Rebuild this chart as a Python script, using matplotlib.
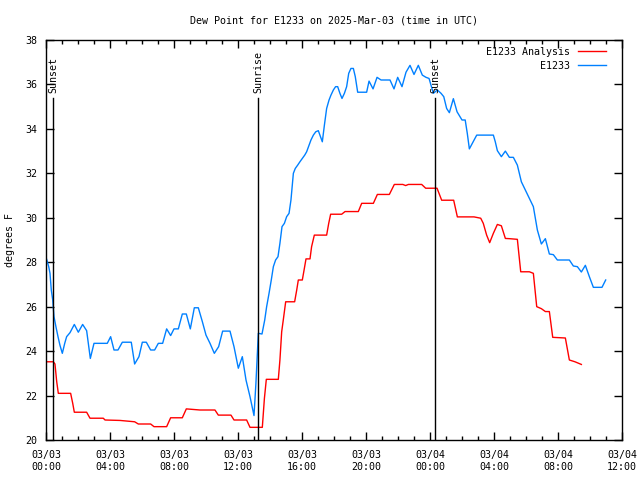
import matplotlib
matplotlib.use("Agg")
import matplotlib.pyplot as plt
from matplotlib.ticker import MultipleLocator

# hours since 2025-03-03 00:00 UTC, dew point in F
obs_hours = [0.04, 0.17, 0.25, 0.33, 0.42, 0.5, 0.62, 0.75, 0.87, 1.02, 1.17, 1.29, 1.5, 1.77, 2.02,
             2.29, 2.54, 2.77, 3.0, 3.83, 4.04, 4.25, 4.5, 4.77, 5.33, 5.54, 5.81, 6.02, 6.27, 6.54,
             6.79, 7.02, 7.29, 7.54, 7.79, 8.0, 8.27, 8.52, 8.77, 9.02, 9.27, 9.52, 9.77, 10.0,
             10.25, 10.52, 10.79, 11.04, 11.5, 11.75, 12.02, 12.27, 12.5, 12.75, 13.0, 13.12,
             13.27, 13.5, 13.67, 13.79, 13.94, 14.08, 14.21, 14.35, 14.5, 14.62, 14.75, 14.9,
             15.04, 15.19, 15.31, 15.46, 15.58, 15.73, 15.87, 16.02, 16.17, 16.29, 16.44, 16.56,
             16.71, 16.86, 17.02, 17.12, 17.27, 17.4, 17.54, 17.69, 17.81, 17.96, 18.1, 18.23,
             18.37, 18.5, 18.65, 18.79, 18.92, 19.06, 19.21, 19.33, 19.48, 20.04, 20.19, 20.44,
             20.69, 20.94, 21.5, 21.75, 21.98, 22.25, 22.5, 22.75, 23.0, 23.27, 23.52, 23.75,
             23.94, 24.21, 24.46, 24.69, 24.86, 25.04, 25.21, 25.46, 25.69, 26.0, 26.2, 26.33,
             26.46, 26.67, 26.92, 27.96, 28.08, 28.21, 28.46, 28.71, 28.96, 29.21, 29.46, 29.71,
             29.96, 30.21, 30.46, 30.71, 30.96, 31.21, 31.46, 31.71, 31.96, 32.71, 32.96, 33.21,
             33.46, 33.71, 33.96, 34.21, 34.75, 34.98]
obs_values = [28.13, 27.8, 27.5, 26.75, 26.3, 25.55, 25.1, 24.65, 24.27, 23.9, 24.35, 24.65, 24.83,
              25.2, 24.85, 25.2, 24.92, 23.67, 24.35, 24.35, 24.65, 24.05, 24.05, 24.4, 24.4,
              23.42, 23.75, 24.4, 24.4, 24.05, 24.05, 24.35, 24.35, 25.0, 24.7, 25.0, 25.0,
              25.67, 25.67, 25.0, 25.95, 25.95, 25.33, 24.72, 24.35, 23.9, 24.2, 24.9, 24.9,
              24.2, 23.23, 23.75, 22.7, 21.95, 21.1, 22.55, 24.8, 24.77, 25.4, 26.0, 26.6, 27.2,
              27.8, 28.1, 28.25, 28.85, 29.6, 29.75, 30.05, 30.2, 30.8, 32.0, 32.22, 32.37,
              32.52, 32.67, 32.82, 32.97, 33.27, 33.5, 33.72, 33.87, 33.92, 33.72, 33.42, 34.17,
              34.92, 35.3, 35.52, 35.75, 35.9, 35.9, 35.6, 35.37, 35.6, 35.9, 36.5, 36.72, 36.72,
              36.35, 35.65, 35.65, 36.15, 35.8, 36.32, 36.2, 36.2, 35.8, 36.32, 35.9, 36.55,
              36.86, 36.45, 36.86, 36.42, 36.32, 36.27, 35.6, 35.75, 35.6, 35.45, 34.92, 34.73,
              35.36, 34.77, 34.4, 34.4, 33.8, 33.1, 33.38, 33.72, 33.72, 33.42, 33.02, 32.75,
              33.0, 32.72, 32.72, 32.37, 31.62, 31.25, 30.87, 30.5, 29.45, 28.82, 29.06, 28.37,
              28.34, 28.1, 28.1, 27.83, 27.8, 27.56, 27.86, 27.35, 26.87, 26.87, 27.2]

ana_hours = [0.04, 0.46, 0.56, 0.67, 0.77, 1.54, 1.67, 1.77, 2.54, 2.75, 3.58, 3.69, 4.63, 5.54,
             5.77, 6.54, 6.75, 7.54, 7.79, 8.52, 8.77, 9.62, 10.56, 10.77, 11.56, 11.75, 12.54,
             12.75, 13.52, 13.65, 13.77, 14.52, 14.62, 14.73, 14.83, 14.98, 15.54, 15.67, 15.77,
             16.02, 16.13, 16.25, 16.5, 16.6, 16.77, 17.54, 17.67, 17.79, 18.48, 18.69, 19.46,
             19.52, 19.73, 20.46, 20.71, 21.46, 21.77, 22.3, 22.48, 22.65, 23.48, 23.73, 24.44,
             24.73, 25.48, 25.71, 26.75, 27.17, 27.33, 27.54, 27.73, 27.96, 28.21, 28.46, 28.71,
             28.96, 29.46, 29.67, 30.21, 30.46, 30.67, 30.96, 31.21, 31.46, 31.67, 32.46, 32.71,
             33.06, 33.46]
ana_values = [23.52, 23.52, 23.42, 22.62, 22.1, 22.1, 21.65, 21.25, 21.25, 20.98, 20.98, 20.9,
              20.88, 20.82, 20.72, 20.72, 20.6, 20.6, 21.0, 21.0, 21.4, 21.35, 21.35, 21.12,
              21.12, 20.9, 20.9, 20.57, 20.57, 21.87, 22.73, 22.73, 23.6, 24.87, 25.4, 26.22,
              26.22, 26.75, 27.2, 27.2, 27.65, 28.15, 28.15, 28.7, 29.22, 29.22, 29.75, 30.16,
              30.16, 30.28, 30.28, 30.28, 30.65, 30.65, 31.05, 31.05, 31.5, 31.5, 31.45, 31.5,
              31.5, 31.33, 31.33, 30.79, 30.79, 30.04, 30.04, 29.98, 29.75, 29.22, 28.88, 29.3,
              29.7, 29.64, 29.07, 29.06, 29.03, 27.57, 27.57, 27.5, 26.0, 25.91, 25.78, 25.78,
              24.62, 24.59, 23.6, 23.52, 23.4]

sun_events = ["Sunset", "Sunrise", "Sunset"]
sun_hours = [0.44, 13.25, 24.31]

tick_hours = [0, 4, 8, 12, 16, 20, 24, 28, 32, 36]
tick_labels = ["03/03\n00:00", "03/03\n04:00", "03/03\n08:00", "03/03\n12:00", "03/03\n16:00",
               "03/03\n20:00", "03/04\n00:00", "03/04\n04:00", "03/04\n08:00", "03/04\n12:00"]

FS = 7.2
plt.rcParams['font.family'] = ['DejaVu Sans Mono']
plt.rcParams['font.size'] = FS

fig = plt.figure(figsize=(6.4, 4.8), dpi=100)
ax = fig.add_axes([46/640, 40/480, 576/640, 400/480])

ax.plot(ana_hours, ana_values, color='#ff0000', lw=1, label='E1233 Analysis')
ax.plot(obs_hours, obs_values, color='#0080ff', lw=1, label='E1233')

line_top = (440 - 98) / 400
for name, h in zip(sun_events, sun_hours):
    ax.axvline(h, ymin=0, ymax=line_top, color='black', lw=1)
    ax.text(h, 20 + 18 * (line_top + 0.012), name, rotation=90, ha='center', va='bottom',
            fontsize=FS)

ax.set_xlim(0, 36)
ax.set_ylim(20, 38)
ax.set_xticks(tick_hours)
ax.set_xticklabels(tick_labels, linespacing=1.3)
ax.xaxis.set_minor_locator(MultipleLocator(1))
ax.yaxis.set_major_locator(MultipleLocator(2))
ax.tick_params(which='both', direction='in', top=True, right=True, labelsize=FS, width=1)
ax.tick_params(which='major', length=6, pad=6)
ax.tick_params(axis='x', which='major', pad=7)
ax.tick_params(which='minor', length=3)
for s in ax.spines.values():
    s.set_linewidth(1)

ax.set_ylabel('degrees F', fontsize=FS, labelpad=8)
ax.set_title('Dew Point for E1233 on 2025-Mar-03 (time in UTC)', fontsize=FS, pad=12)

ax.legend(loc='upper right', frameon=False, markerfirst=False, fontsize=FS,
          handlelength=2.8, handletextpad=0.8, labelspacing=0.4, borderaxespad=0.3,
          bbox_to_anchor=(1 - 9/576, 1))

fig.savefig('out.png', dpi=100)
